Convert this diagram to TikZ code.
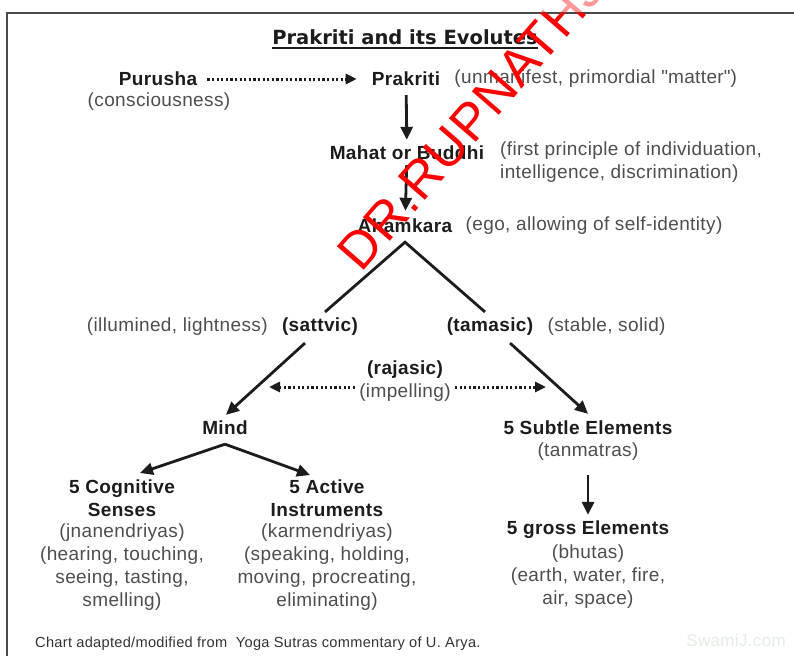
\documentclass[tikz,border=0pt]{standalone}
\usepackage{fontspec}
\setmainfont{Liberation Sans}[LetterSpace=2]
\newfontfamily\titlefont{DejaVu Sans}
\usetikzlibrary{arrows.meta, positioning, calc}

\definecolor{ink}{HTML}{1C1C1C}
\definecolor{glossgray}{HTML}{4E4E4E}
\definecolor{framegray}{HTML}{4A4A4A}
\definecolor{stampred}{HTML}{FF0000}
\definecolor{sitegreen}{HTML}{E4EDE4}

% straight double quote, taken as a glyph so the TeX mapping leaves it alone
\newcommand{\straightquote}{\XeTeXglyph\XeTeXcharglyph"22\relax}

\begin{document}
\begin{tikzpicture}[x=1pt, y=-1pt,
    font=\fontsize{19}{23}\selectfont,
    concept/.style={
        font=\fontsize{19}{23}\selectfont\bfseries,
        text=ink,
        inner sep=1pt,
        align=center
    },
    gloss/.style={
        text=glossgray,
        inner sep=1pt,
        align=center
    },
    flow/.style={
        -{Triangle[length=13pt, width=12pt]},
        line width=2.8pt,
        draw=ink
    },
    branch/.style={
        line width=2.8pt,
        draw=ink
    },
    hint/.style={
        -{Triangle[length=11pt, width=10pt]},
        line width=3pt,
        dash pattern=on 2.2pt off 2.4pt,
        draw=ink
    },
    stamp/.style={
        font=\fontsize{52}{52}\selectfont,
        text=stampred,
        rotate=49,
        inner sep=0pt
    }
]

\useasboundingbox (0,0) rectangle (794,656);

% =====================
% Frame and title
% =====================

\draw[framegray, line width=1.4pt] (7,656) -- (7,13);
\draw[framegray, line width=2.2pt] (6,13) -- (794,13);

\node[inner sep=0pt, text=ink, font=\titlefont\bfseries\fontsize{19.5}{22}\selectfont]
    (title) at (405,37) {Prakriti and its Evolutes};
\draw[ink, line width=2.2pt] ($(title.base west)+(0,-4pt)$) -- ($(title.base east)+(0,-4pt)$);

% =====================
% Purusha and Prakriti
% =====================

\node[concept] (purusha) at (158,79) {Purusha};
\node[gloss] (purushanote) at (159,102) {(consciousness)};

\node[concept] (prakriti) at (406,79) {Prakriti};
\node[gloss, right=12pt of prakriti] (prakritinote)
    {(unmanifest, primordial \straightquote matter\straightquote)};

\draw[hint, shorten <=9pt, shorten >=14pt] (purusha.east) -- (prakriti.west);

% =====================
% Mahat and Ahamkara
% =====================

\node[concept] (mahat) at (407,153) {Mahat or Buddhi};
\node[gloss, align=left, anchor=north west] (mahatnote) at (499,141)
    {(first principle of individuation,\\intelligence, discrimination)};

\node[concept] (ahamkara) at (405,226) {Ahamkara};
\node[gloss, right=11pt of ahamkara] (ahamkaranote) {(ego, allowing of self-identity)};

\draw[flow, shorten <=8pt, shorten >=5pt] (prakriti) -- (mahat);
\draw[flow, shorten <=4pt, shorten >=7pt] (mahat) -- (ahamkara);

% =====================
% The three gunas
% =====================

\coordinate[below=8pt of ahamkara] (peak);

\node[concept] (sattvic) at (320,327) {(sattvic)};
\node[gloss, left=12pt of sattvic] (sattvicnote) {(illumined, lightness)};

\node[concept] (tamasic) at (490,327) {(tamasic)};
\node[gloss, right=12pt of tamasic] (tamasicnote) {(stable, solid)};

\draw[branch] ($(sattvic.north)+(5pt,5pt)$) -- (peak) -- ($(tamasic.north)+(-5pt,5pt)$);

\node[concept] (rajasic) at (405,370) {(rajasic)};
\node[gloss] (impelling) at (405,393) {(impelling)};

\coordinate (rajleft) at (269,387);
\coordinate (rajright) at (546,387);
\draw[hint, shorten <=3pt] (impelling.west |- rajleft) -- (rajleft);
\draw[hint, shorten <=3pt] (impelling.east |- rajright) -- (rajright);

% =====================
% Mind and the senses
% =====================

\node[concept] (mind) at (225,428) {Mind};

\draw[flow] ($(sattvic.south)+(-15pt,-6pt)$) -- ($(mind.north)+(1pt,5pt)$);

\coordinate[below=8pt of mind] (fork);

\node[concept, anchor=north] (cognitive) at (122,479) {5 Cognitive\\Senses};
\node[gloss, below=4pt of cognitive] (cognitivenote)
    {(jnanendriyas)\\(hearing, touching,\\seeing, tasting,\\smelling)};

\node[concept, anchor=north] (active) at (327,479) {5 Active\\Instruments};
\node[gloss, below=4pt of active] (activenote)
    {(karmendriyas)\\(speaking, holding,\\moving, procreating,\\eliminating)};

\draw[flow] (fork) -- ($(cognitive.north)+(18pt,6pt)$);
\draw[flow] (fork) -- ($(active.north)+(-17pt,4pt)$);

% =====================
% Elements
% =====================

\node[concept] (subtle) at (588,428) {5 Subtle Elements};
\node[gloss, below=5pt of subtle] (subtlenote) {(tanmatras)};

\draw[flow] ($(tamasic.south)+(20pt,-6pt)$) -- ($(subtle.north)+(0,6pt)$);

\node[concept] (gross) at (588,530) {5 gross Elements};
\node[gloss, below=3pt of gross] (grossnote) {(bhutas)\\(earth, water, fire,\\air, space)};

\draw[flow, shorten <=14pt, shorten >=5pt] (subtlenote) -- (gross);

% =====================
% Credits and watermark
% =====================

\node[anchor=west, inner sep=0pt, text=ink!90, font=\fontsize{14.6}{16}\selectfont]
    (credit) at (35,644) {Chart adapted/modified from~ Yoga Sutras commentary of U. Arya.};
\node[anchor=east, inner sep=0pt, text=sitegreen, font=\fontsize{17}{19}\selectfont]
    (site) at (786,640) {SwamiJ.com};

\begin{scope}
    \clip (7,13) rectangle (794,656);
    \node[stamp] (stampmark) at (476,115) {DR.RUPNATHJI};
\end{scope}
\begin{scope}
    \clip (0,0) rectangle (794,12);
    \node[stamp, opacity=0.4] (stampfaint) at (476,115) {DR.RUPNATHJI};
\end{scope}

\end{tikzpicture}
\end{document}
